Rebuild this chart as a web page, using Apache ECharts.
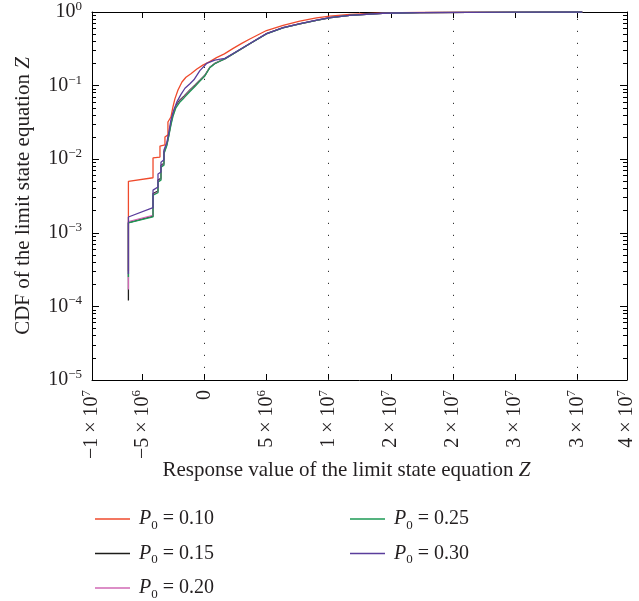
<!DOCTYPE html>
<html>
<head>
<meta charset="utf-8">
<script src="https://cdn.jsdelivr.net/npm/echarts@6/dist/echarts.min.js"></script>
<style>
  html, body { margin: 0; padding: 0; background: #fff; }
  #chart { width: 639px; height: 601px; }
</style>
</head>
<body>
<div id="chart"></div>
<script>
// axis range and ticks
const xMin = -9.05e6, xMax = 3.4e7;
const xTickValues = [-9.05e6, -5e6, 0, 5e6, 1e7, 1.5e7, 2e7, 2.5e7, 3e7, 3.4e7];
const xTickLabels = ['−1 × 10{s|7}', '−5 × 10{s|6}', '0', '5 × 10{s|6}', '1 × 10{s|7}',
    '2 × 10{s|7}', '2 × 10{s|7}', '3 × 10{s|7}', '3 × 10{s|7}', '4 × 10{s|7}'];
const xInnerTicks = [-5e6, 0, 5e6, 1e7, 1.5e7, 2e7, 2.5e7, 3e7];
const gridX = [0, 1e7, 2e7, 3e7];
const yMajor = [1e-5, 1e-4, 1e-3, 1e-2, 1e-1, 1];
const yMinor = [];
for (let d = -5; d < 0; d++) {
    for (let k = 2; k <= 9; k++) yMinor.push(+(k * Math.pow(10, d)).toPrecision(3));
}

const seriesNames = ['P0 = 0.10', 'P0 = 0.15', 'P0 = 0.20', 'P0 = 0.25', 'P0 = 0.30'];
const seriesColors = ['#ef4a2c', '#1d1d1b', '#d068b4', '#1d9a55', '#5a3d9c'];

// CDF curves [Z, CDF]
const cdf010 = [
    [-6.12e6, 3.0e-4], [-6.12e6, 5.0e-3], [-4.14e6, 5.6e-3], [-4.14e6, 1.04e-2], [-3.58e6, 1.07e-2],
    [-3.58e6, 1.51e-2], [-3.18e6, 1.56e-2], [-3.18e6, 2.0e-2], [-2.94e6, 2.14e-2], [-2.94e6, 3.2e-2],
    [-2.70e6, 3.74e-2], [-2.54e6, 5.1e-2], [-2.38e6, 6.6e-2], [-2.13e6, 8.7e-2], [-1.81e6, 0.112],
    [-1.49e6, 0.13], [-1.09e6, 0.145], [-0.61e6, 0.168], [-0.13e6, 0.19], [0.43e6, 0.212],
    [0.97e6, 0.24], [1.6e6, 0.27], [2.31e6, 0.32], [3.0e6, 0.375], [3.65e6, 0.43], [4.99e6, 0.56],
    [6.33e6, 0.66], [7.67e6, 0.75], [9.01e6, 0.83], [10.08e6, 0.88], [11.69e6, 0.93],
    [14.34e6, 0.97], [17.3e6, 0.985], [21.3e6, 0.992], [25.3e6, 0.997], [30.4e6, 1.0]
];
const cdf015 = [
    [-6.12e6, 1.2e-4], [-6.12e6, 1.38e-3], [-4.14e6, 1.68e-3], [-4.14e6, 3.4e-3], [-3.74e6, 3.7e-3],
    [-3.74e6, 5.2e-3], [-3.5e6, 5.5e-3], [-3.5e6, 8.2e-3], [-3.26e6, 8.8e-3], [-3.26e6, 1.25e-2],
    [-3.02e6, 1.62e-2], [-2.86e6, 2.2e-2], [-2.70e6, 3.1e-2], [-2.54e6, 4.1e-2], [-2.30e6, 5.3e-2],
    [-1.97e6, 6.4e-2], [-1.65e6, 7.2e-2], [-1.17e6, 8.7e-2], [-0.77e6, 0.101], [-0.37e6, 0.118],
    [0.03e6, 0.138], [0.43e6, 0.177], [0.83e6, 0.20], [1.24e6, 0.216], [1.64e6, 0.232],
    [2.31e6, 0.271], [3.65e6, 0.371], [4.99e6, 0.507], [6.33e6, 0.612], [7.67e6, 0.692],
    [9.01e6, 0.772], [10.08e6, 0.836], [11.69e6, 0.90], [14.34e6, 0.961], [17.3e6, 0.981],
    [21.3e6, 0.99], [25.3e6, 0.995], [30.4e6, 1.0]
];
const cdf020 = [
    [-6.12e6, 1.7e-4], [-6.12e6, 1.42e-3], [-4.14e6, 1.72e-3], [-4.14e6, 3.3e-3], [-3.74e6, 3.6e-3],
    [-3.74e6, 5.0e-3], [-3.5e6, 5.3e-3], [-3.5e6, 8.0e-3], [-3.26e6, 8.5e-3], [-3.26e6, 1.2e-2],
    [-3.02e6, 1.58e-2], [-2.86e6, 2.15e-2], [-2.70e6, 3.0e-2], [-2.54e6, 3.9e-2], [-2.30e6, 5.1e-2],
    [-1.97e6, 6.2e-2], [-1.65e6, 7.0e-2], [-1.17e6, 8.5e-2], [-0.77e6, 0.099], [-0.37e6, 0.116],
    [0.03e6, 0.136], [0.43e6, 0.176], [0.83e6, 0.199], [1.24e6, 0.215], [1.64e6, 0.231],
    [2.31e6, 0.27], [3.65e6, 0.37], [4.99e6, 0.506], [6.33e6, 0.611], [7.67e6, 0.691],
    [9.01e6, 0.771], [10.08e6, 0.835], [11.69e6, 0.90], [14.34e6, 0.96], [17.3e6, 0.98],
    [21.3e6, 0.99], [25.3e6, 0.995], [30.4e6, 1.0]
];
const cdf025 = [
    [-6.12e6, 2.5e-4], [-6.12e6, 1.36e-3], [-4.14e6, 1.64e-3], [-4.14e6, 3.25e-3], [-3.74e6, 3.5e-3],
    [-3.74e6, 4.9e-3], [-3.5e6, 5.2e-3], [-3.5e6, 7.8e-3], [-3.26e6, 8.3e-3], [-3.26e6, 1.18e-2],
    [-3.02e6, 1.55e-2], [-2.86e6, 2.1e-2], [-2.70e6, 2.9e-2], [-2.54e6, 3.8e-2], [-2.30e6, 5.0e-2],
    [-1.97e6, 6.0e-2], [-1.65e6, 6.8e-2], [-1.17e6, 8.3e-2], [-0.77e6, 0.097], [-0.37e6, 0.115],
    [0.03e6, 0.135], [0.43e6, 0.175], [0.83e6, 0.198], [1.24e6, 0.214], [1.64e6, 0.23],
    [2.31e6, 0.27], [3.65e6, 0.37], [4.99e6, 0.505], [6.33e6, 0.61], [7.67e6, 0.69],
    [9.01e6, 0.77], [10.08e6, 0.835], [11.69e6, 0.90], [14.34e6, 0.96], [17.3e6, 0.98],
    [21.3e6, 0.99], [25.3e6, 0.995], [30.4e6, 1.0]
];
const cdf030 = [
    [-6.12e6, 2.75e-4], [-6.12e6, 1.64e-3], [-4.14e6, 2.2e-3], [-4.14e6, 3.8e-3], [-3.74e6, 4.2e-3],
    [-3.74e6, 6.3e-3], [-3.5e6, 6.7e-3], [-3.5e6, 9.1e-3], [-3.26e6, 9.8e-3], [-3.26e6, 1.33e-2],
    [-3.02e6, 1.7e-2], [-2.86e6, 2.35e-2], [-2.70e6, 3.4e-2], [-2.46e6, 4.7e-2], [-2.22e6, 6.0e-2],
    [-1.89e6, 7.6e-2], [-1.57e6, 9.2e-2], [-1.17e6, 0.106], [-0.85e6, 0.12], [-0.37e6, 0.16],
    [0.17e6, 0.20], [0.83e6, 0.222], [1.64e6, 0.234], [2.31e6, 0.273], [3.65e6, 0.373],
    [4.99e6, 0.509], [6.33e6, 0.614], [7.67e6, 0.695], [9.01e6, 0.773], [10.08e6, 0.838],
    [11.69e6, 0.902], [14.34e6, 0.962], [17.3e6, 0.982], [21.3e6, 0.99], [25.3e6, 0.995], [30.4e6, 1.0]
];
const seriesData = [cdf010, cdf015, cdf020, cdf025, cdf030];

const FONT = '"Liberation Serif", "DejaVu Serif", serif';
const TXT = '#231f20';
const supStyle = { fontSize: 13, lineHeight: 13, verticalAlign: 'top', fontFamily: FONT, color: TXT };

let chart = echarts.init(document.getElementById('chart'), null, { renderer: 'canvas' });

function yAxisCfg(pos, major) {
    return {
        type: 'log', min: 1e-5, max: 1, position: pos,
        axisLine: { show: major, onZero: false, lineStyle: { color: '#000', width: 1 } },
        axisTick: { show: true, inside: true, length: major ? 7 : 4, customValues: major ? yMajor : yMinor,
            lineStyle: { color: '#000', width: 1 } },
        axisLabel: {
            show: major && pos == 'left', customValues: yMajor, margin: 10,
            fontFamily: FONT, fontSize: 20, color: TXT, lineHeight: 24,
            formatter: function(v) {
                let e = Math.round(Math.log10(v));
                return '10{s|' + (e < 0 ? '−' + (-e) : e) + '}';
            },
            rich: { s: supStyle }
        },
        splitLine: { show: false },
        name: major && pos == 'left' ? 'CDF of the limit state equation {i|Z}' : '',
        nameLocation: 'middle', nameGap: 58, nameRotate: 90,
        nameTextStyle: { fontFamily: FONT, fontSize: 21, color: TXT,
            rich: { i: { fontFamily: FONT, fontSize: 21, fontStyle: 'italic', color: TXT } } }
    };
}

let series = seriesData.map((d, i) => ({
    name: seriesNames[i],
    type: 'line',
    data: d,
    showSymbol: false,
    symbol: 'none',
    lineStyle: { width: 1.3, color: seriesColors[i] },
    itemStyle: { color: seriesColors[i] },
    z: 3 + i
}));
series[0].markLine = {
    silent: true, symbol: ['none', 'none'], label: { show: false }, animation: false,
    lineStyle: { type: [1.2, 10.8], color: '#333', width: 1 },
    data: gridX.map(v => ({ xAxis: v }))
};

function legendCfg(names, left) {
    return {
        data: names, orient: 'vertical', left: left, top: 501, height: 110, itemGap: 8.5,
        icon: 'rect', itemWidth: 35, itemHeight: 1.5,
        formatter: function(name) {
            return '{i|P}{b|0} = ' + name.split('= ')[1];
        },
        textStyle: {
            fontFamily: FONT, fontSize: 20, color: TXT, lineHeight: 26, padding: [0, 0, 0, 4],
            rich: {
                i: { fontFamily: FONT, fontSize: 20, fontStyle: 'italic', color: TXT, lineHeight: 26 },
                b: { fontFamily: FONT, fontSize: 13, lineHeight: 13, verticalAlign: 'bottom', color: TXT }
            }
        }
    };
}

option = {
    animation: false,
    backgroundColor: '#fff',
    grid: { left: 92, right: 11, top: 10, bottom: 221, containLabel: false },
    legend: [legendCfg(seriesNames.slice(0, 3), 90), legendCfg(seriesNames.slice(3), 345)],
    xAxis: [{
        type: 'value', min: xMin, max: xMax, position: 'bottom',
        axisLine: { onZero: false, lineStyle: { color: '#000', width: 1 } },
        axisTick: { inside: true, length: 6, customValues: xInnerTicks, lineStyle: { color: '#000' } },
        axisLabel: {
            customValues: xTickValues, rotate: 90, margin: 10,
            fontFamily: FONT, fontSize: 20, color: TXT, lineHeight: 24,
            formatter: function(v) {
                let best = 0;
                for (let i = 1; i < xTickValues.length; i++) {
                    if (Math.abs(xTickValues[i] - v) < Math.abs(xTickValues[best] - v)) best = i;
                }
                return xTickLabels[best];
            },
            rich: { s: supStyle }
        },
        splitLine: { show: false },
        name: 'Response value of the limit state equation {i|Z}',
        nameLocation: 'middle', nameGap: 80, nameMoveOverlap: false,
        nameTextStyle: { fontFamily: FONT, fontSize: 21, color: TXT, padding: [0, 26, 0, 0],
            rich: { i: { fontFamily: FONT, fontSize: 21, fontStyle: 'italic', color: TXT } } }
    }, {
        type: 'value', min: xMin, max: xMax, position: 'top',
        axisLine: { onZero: false, lineStyle: { color: '#000', width: 1 } },
        axisTick: { inside: true, length: 6, customValues: xInnerTicks, lineStyle: { color: '#000' } },
        axisLabel: { show: false },
        splitLine: { show: false }
    }],
    yAxis: [yAxisCfg('left', true), yAxisCfg('left', false), yAxisCfg('right', true), yAxisCfg('right', false)],
    series: series
};

if (option && typeof option === "object") {
    chart.setOption(option, true);
}
</script>
</body>
</html>
